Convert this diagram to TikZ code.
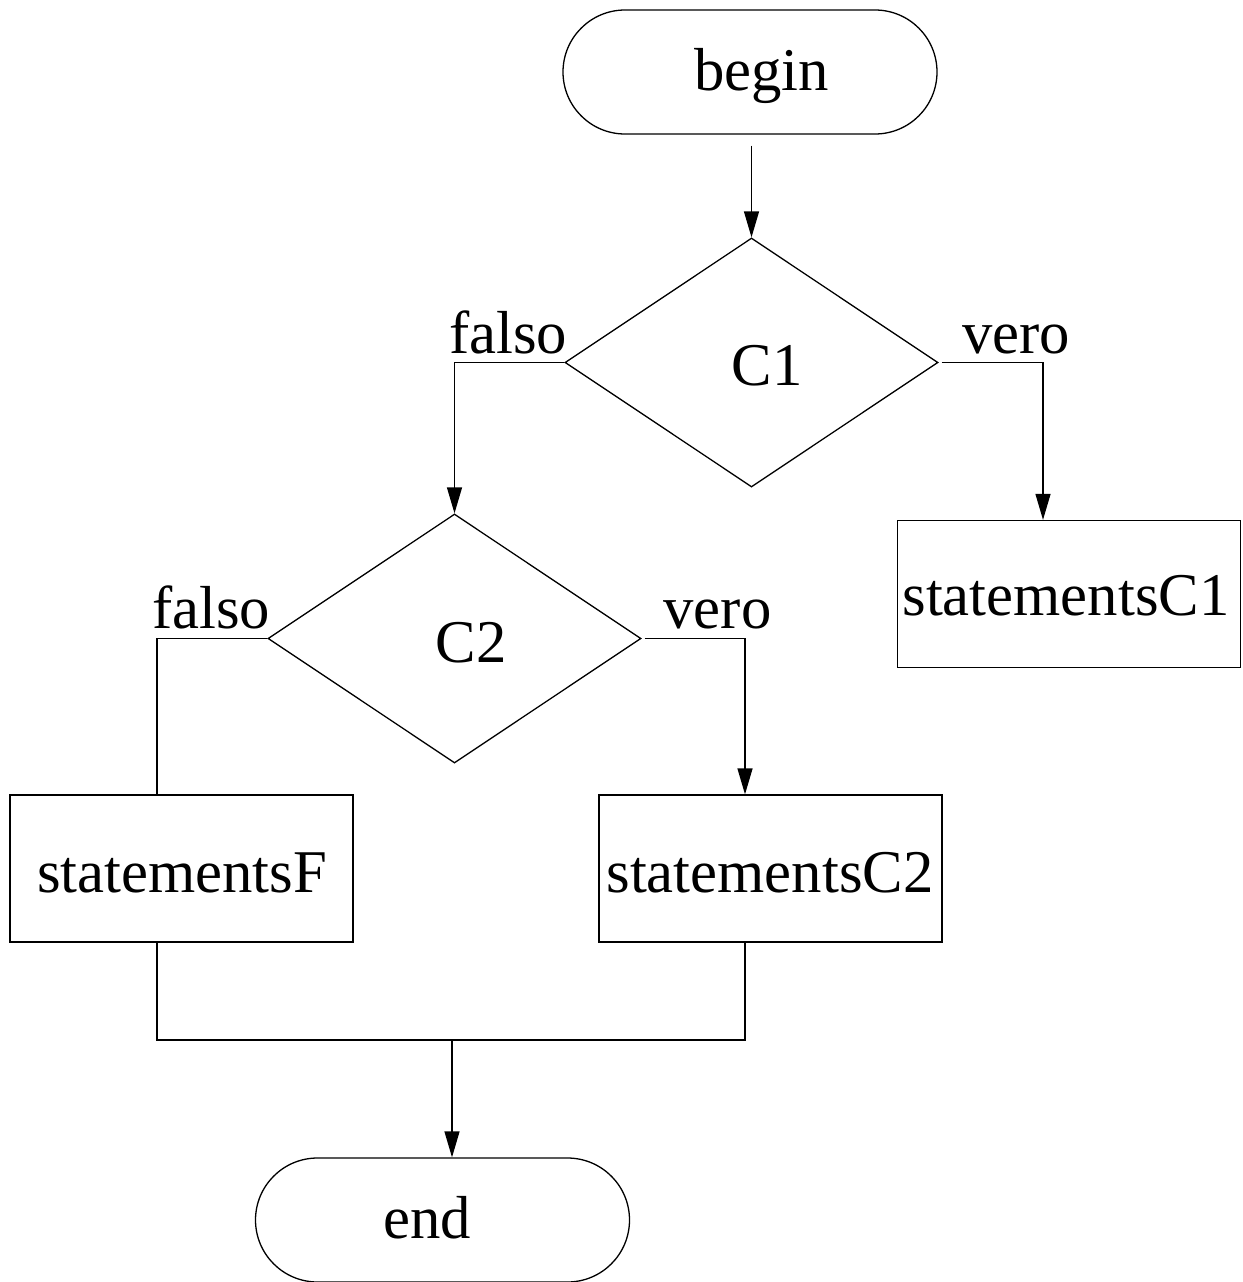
\documentclass[tikz,border=0pt]{standalone}
\usepackage{fontspec}
\setmainfont{Liberation Serif}
\usetikzlibrary{shapes.geometric,arrows.meta}
\begin{document}
\begin{tikzpicture}[x=1pt,y=-1pt,line width=1.3pt,
  term/.style={draw,rectangle,rounded corners=62pt,minimum width=374pt,minimum height=124pt,inner sep=0pt},
  dec/.style={draw,diamond,minimum width=373pt,minimum height=249pt,inner sep=0pt},
  stmt/.style={draw,rectangle,minimum width=343pt,minimum height=147pt,inner sep=0pt},
  txt/.style={anchor=base,inner sep=0pt,font=\fontsize{60.7}{70}\selectfont},
  arr/.style={-{Triangle[length=26pt,width=15pt]}}]
\useasboundingbox (0,0) rectangle (1242,1282);
% shapes
\node[term] (begin) at (750,72) {};
\node[dec] (C1) at (751.5,362.5) {};
\node[stmt] (sC1) at (1069,594) {};
\node[dec] (C2) at (454.5,638.5) {};
\node[stmt] (sF) at (181.5,868.5) {};
\node[stmt] (sC2) at (770.5,868.5) {};
\node[term] (end) at (442.5,1220) {};
% texts
\node[txt] (tbegin) at (761.5,90) {begin};
\node[txt] (tC1) at (767,385) {C1};
\node[txt] (tsC1) at (1066,615) {statementsC1};
\node[txt] (tC2) at (471,662) {C2};
\node[txt] (tsF) at (182,892) {statementsF};
\node[txt] (tsC2) at (770,892) {statementsC2};
\node[txt] (tend) at (427,1238) {end};
\node[txt] (f1) at (508,353) {falso};
\node[txt] (v1) at (1016,353) {vero};
\node[txt] (f2) at (211,628) {falso};
\node[txt] (v2) at (717.5,628) {vero};
% connectors
\coordinate (b0) at ([yshift=-11pt]begin.south -| C1.north);
\draw[arr] (b0) -- (C1.north);
\draw[arr] (C1.west) -| (C2.north);
\draw[arr] ([xshift=3pt]C1.east) -| ([xshift=-26pt]sC1.north);
\draw (C2.west) -| ([xshift=-24.5pt]sF.north);
\draw[arr] ([xshift=3pt]C2.east) -| ([xshift=-25.5pt]sC2.north);
\coordinate (m) at (452,1040);
\draw ([xshift=-24.5pt]sF.south) |- (m) -| ([xshift=-25.5pt]sC2.south);
\draw[arr] (m) -- (m |- end.north);
\end{tikzpicture}
\end{document}
